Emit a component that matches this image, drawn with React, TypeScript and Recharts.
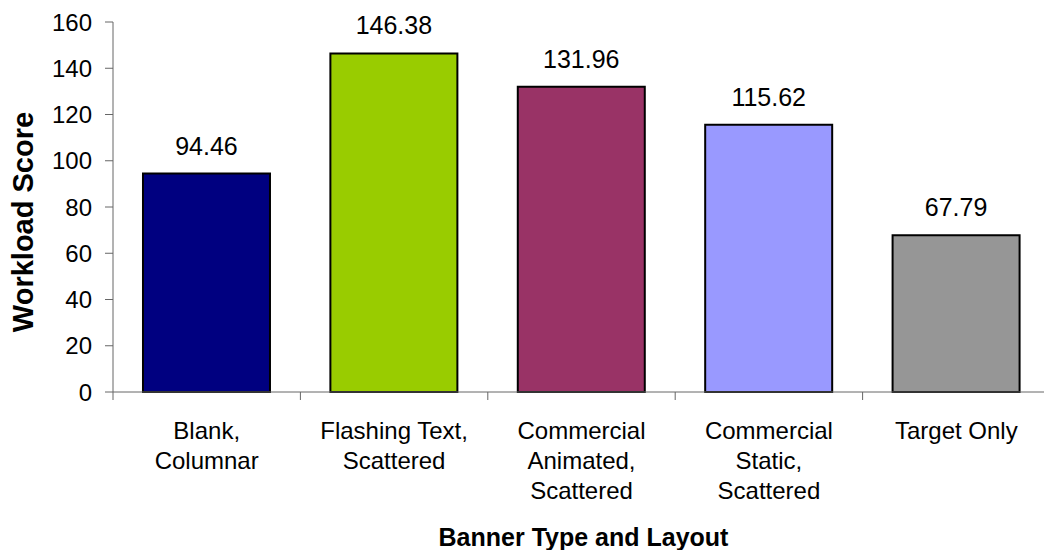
import React from "react";
import { BarChart, Bar, XAxis, YAxis, Cell, LabelList, Label } from "recharts";

// Workload score by banner type and layout
const categories = [
  "Blank, Columnar",
  "Flashing Text, Scattered",
  "Commercial Animated, Scattered",
  "Commercial Static, Scattered",
  "Target Only",
];
const categoryLines = [
  ["Blank,", "Columnar"],
  ["Flashing Text,", "Scattered"],
  ["Commercial", "Animated,", "Scattered"],
  ["Commercial", "Static,", "Scattered"],
  ["Target Only"],
];
const scores = [94.46, 146.38, 131.96, 115.62, 67.79];
const barColors = ["#000080", "#99CC00", "#993366", "#9999FF", "#969696"];
const yTicks = [0, 20, 40, 60, 80, 100, 120, 140, 160];

const data = categories.map((name, i) => ({ name, score: scores[i] }));

const FONT = "'Liberation Sans', Arial, Helvetica, sans-serif";
const AXIS_COLOR = "#666666";

const CategoryTick = (props: any) => {
  const { x, y, payload, index, visibleTicksCount } = props;
  const half = payload.offset || 0;
  const lines = categoryLines[index] || [String(payload.value)];
  return (
    <g>
      <line x1={x - half} y1={y} x2={x - half} y2={y + 8} stroke={AXIS_COLOR} strokeWidth={1} />
      {index === visibleTicksCount - 1 && (
        <line x1={x + half} y1={y} x2={x + half} y2={y + 8} stroke={AXIS_COLOR} strokeWidth={1} />
      )}
      <text x={x} y={y + 47} textAnchor="middle" fontFamily={FONT} fontSize={24} fill="#000">
        {lines.map((ln: string, i: number) => (
          <tspan key={i} x={x} dy={i === 0 ? 0 : 30}>
            {ln}
          </tspan>
        ))}
      </text>
    </g>
  );
};

const YTitle = (props: any) => {
  const vb = props.viewBox || {};
  const cx = (vb.x || 0) + 23;
  const cy = (vb.y || 0) + (vb.height || 0) / 2 + 15;
  return (
    <text
      x={cx}
      y={cy}
      transform={`rotate(-90, ${cx}, ${cy})`}
      textAnchor="middle"
      dominantBaseline="central"
      fontFamily={FONT}
      fontWeight="bold"
      fontSize={29}
      fill="#000"
    >
      Workload Score
    </text>
  );
};

const XTitle = (props: any) => {
  const vb = props.viewBox || {};
  const cx = (vb.x || 0) + (vb.width || 0) / 2 + 2;
  const by = (vb.y || 0) + 154;
  return (
    <text x={cx} y={by} textAnchor="middle" fontFamily={FONT} fontWeight="bold" fontSize={25} fill="#000">
      Banner Type and Layout
    </text>
  );
};

export default function App() {
  return (
    <div
      style={{
        position: "absolute",
        left: 0,
        top: 0,
        width: 1044,
        height: 550,
        overflow: "hidden",
        background: "#fff",
      }}
    >
      <BarChart
        width={1060}
        height={550}
        data={data}
        margin={{ top: 22, right: 10, bottom: 0, left: 0 }}
        barCategoryGap="16%"
      >
        <XAxis
          dataKey="name"
          height={158}
          tickSize={0}
          tickMargin={0}
          tickLine={false}
          axisLine={{ stroke: AXIS_COLOR, strokeWidth: 1 }}
          tick={<CategoryTick />}
          interval={0}
        >
          <Label content={<XTitle />} />
        </XAxis>
        <YAxis
          width={113}
          domain={[0, 160]}
          ticks={yTicks}
          interval={0}
          tickSize={8}
          tickMargin={13}
          axisLine={{ stroke: AXIS_COLOR, strokeWidth: 1 }}
          tickLine={{ stroke: AXIS_COLOR, strokeWidth: 1 }}
          tick={{ fontFamily: FONT, fontSize: 24, fill: "#000" }}
        >
          <Label content={<YTitle />} />
        </YAxis>
        <Bar dataKey="score" stroke="#000" strokeWidth={2} isAnimationActive={false}>
          {data.map((d, i) => (
            <Cell key={d.name} fill={barColors[i]} />
          ))}
          <LabelList
            dataKey="score"
            position="top"
            offset={19}
            formatter={(v: any) => Number(v).toFixed(2)}
            style={{ fontFamily: FONT, fontSize: 25, fill: "#000" }}
          />
        </Bar>
      </BarChart>
    </div>
  );
}
